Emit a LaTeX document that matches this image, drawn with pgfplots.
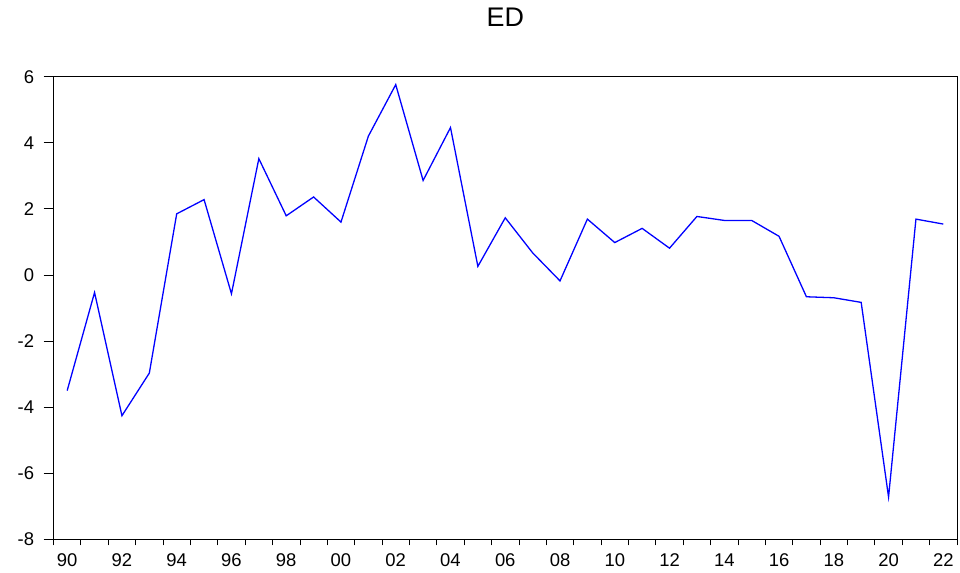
\documentclass[border=0pt]{standalone}
\usepackage{fontspec}
\setmainfont{Liberation Sans}
\usepackage{pgfplots}
\pgfplotsset{compat=1.18}
\begin{document}
\begin{tikzpicture}
\path[use as bounding box] (-53.5bp,-33.7bp) rectangle (906.5bp,539.3bp);
\begin{axis}[
  at={(0,0)}, anchor=south west,
  scale only axis,
  width=903.5bp, height=462.6bp,
  xmin=1989.5, xmax=2022.5,
  ymin=-8, ymax=6,
  ytick={-8,-6,...,6},
  xtick={1990,1992,...,2022},
  xticklabels={90,92,94,96,98,00,02,04,06,08,10,12,14,16,18,20,22},
  minor xtick={1989.5,1990.5,...,2022.5},
  tick align=outside,
  xtick pos=bottom, ytick pos=left,
  major tick length=10bp,
  minor tick length=6bp,
  major x tick style={draw=none},
  tick style={black, line width=0.8pt},
  axis line style={black, line width=1pt},
  /pgf/number format/assume math mode=true,
  ticklabel style={font=\fontsize{18.5}{20}\selectfont},
  yticklabel style={xshift=-6bp},
  xticklabel style={yshift=-1bp},
  title={\fontsize{27}{30}\selectfont ED},
  title style={anchor=center, yshift=53bp},
]
\addplot[color={rgb,255:red,0;green,0;blue,255}, line width=1.3pt, mark=none] coordinates {
(1990,-3.50) (1991,-0.53) (1992,-4.26) (1993,-2.97) (1994,1.85) (1995,2.28)
(1996,-0.57) (1997,3.52) (1998,1.79) (1999,2.36) (2000,1.60) (2001,4.20)
(2002,5.76) (2003,2.86) (2004,4.46) (2005,0.26) (2006,1.73) (2007,0.67)
(2008,-0.18) (2009,1.69) (2010,0.98) (2011,1.41) (2012,0.81) (2013,1.77)
(2014,1.65) (2015,1.65) (2016,1.17) (2017,-0.66) (2018,-0.69) (2019,-0.83)
(2020,-6.72) (2021,1.69) (2022,1.54)
};
\end{axis}
\end{tikzpicture}
\end{document}
